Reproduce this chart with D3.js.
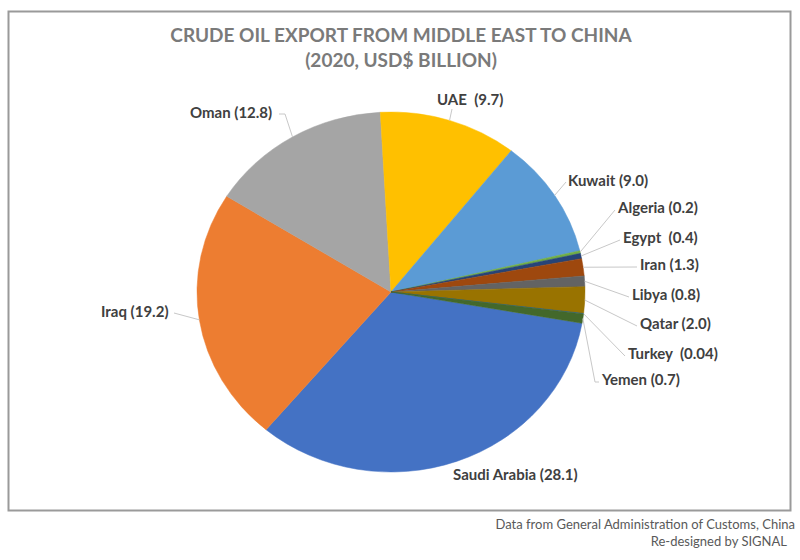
<!DOCTYPE html>
<html>
<head>
<meta charset="utf-8">
<script src="https://cdn.jsdelivr.net/npm/d3@7"></script>
<style>
  html, body { margin: 0; padding: 0; background: #fff; }
  svg { display: block; }
  text { font-family: Lato, "Open Sans", sans-serif; }
</style>
</head>
<body>
<svg id="chart" width="800" height="560"></svg>
<script>
// Crude oil exports to China, 2020, USD$ billion (slice order clockwise from Saudi Arabia)
const countries = ["Saudi Arabia", "Iraq", "Oman", "UAE", "Kuwait", "Algeria",
                   "Egypt", "Iran", "Libya", "Qatar", "Turkey", "Yemen"];
const values    = [28.1, 19.2, 12.8, 9.7, 9.0, 0.2, 0.4, 1.3, 0.8, 2.0, 0.04, 0.7];
const valueText = ["28.1", "19.2", "12.8", "9.7", "9.0", "0.2", "0.4", "1.3", "0.8", "2.0", "0.04", "0.7"];
const labelGap  = [" ", " ", " ", "  ", " ", " ", "  ", " ", " ", " ", "  ", " "];
const colors    = ["#4472C4", "#ED7D31", "#A5A5A5", "#FFC000", "#5B9BD5", "#70AD47",
                   "#264478", "#9E480E", "#636363", "#997300", "#255E91", "#43682B"];

// Label placement: left edge / baseline of the text, and where each leader line ends
const labelLayout = {
  "Saudi Arabia": { x: 453, y: 480, line: null },
  "Iraq":         { x: 101, y: 317, line: [[174, 313]] },
  "Oman":         { x: 190, y: 118, line: [[279, 114], [285, 114]] },
  "UAE":          { x: 437, y: 105, line: [[452, 109]] },
  "Kuwait":       { x: 568, y: 186, line: [[566, 182]] },
  "Algeria":      { x: 618, y: 213, line: [[615, 210]] },
  "Egypt":        { x: 623, y: 243, line: [[620, 240]] },
  "Iran":         { x: 640, y: 270, line: [[637, 267]] },
  "Libya":        { x: 632, y: 300, line: [[629, 297]] },
  "Qatar":        { x: 640, y: 329, line: [[637, 326]] },
  "Turkey":       { x: 628, y: 359, line: [[625, 356]] },
  "Yemen":        { x: 602, y: 385, line: [[599, 382], [595, 382]] }
};

const svg = d3.select("#chart");

// chart frame
svg.append("rect")
  .attr("x", 8.5).attr("y", 11.5).attr("width", 782).attr("height", 499)
  .attr("fill", "#fff").attr("stroke", "#9a9a9a").attr("stroke-width", 2);

// title
const titleLines = ["CRUDE OIL EXPORT FROM MIDDLE EAST TO CHINA", "(2020, USD$ BILLION)"];
svg.append("g").selectAll("text").data(titleLines).join("text")
  .attr("x", 401).attr("y", (d, i) => 42 + i * 25).attr("text-anchor", "middle")
  .attr("font-size", 19).attr("font-weight", 700).attr("fill", "#7a7a7a")
  .text(d => d);

// pie (drawn slightly wider than tall)
const cx = 391, cy = 292, r = 180, sx = 194 / 180;
const firstSliceAngle = 100 * Math.PI / 180;
const data = countries.map((c, i) => ({ name: c, value: values[i], color: colors[i], vt: valueText[i], gap: labelGap[i] }));
const pie = d3.pie().value(d => d.value).sort(null)
  .startAngle(firstSliceAngle).endAngle(firstSliceAngle + 2 * Math.PI);
const arcs = pie(data);
const arc = d3.arc().innerRadius(0).outerRadius(r);
const edge = d3.arc().innerRadius(r).outerRadius(r);

const g = svg.append("g").attr("transform", `translate(${cx},${cy}) scale(${sx},1)`);
g.selectAll("path.slice").data(arcs).join("path")
  .attr("class", "slice")
  .attr("d", arc)
  .attr("fill", d => d.data.color)
  .attr("stroke", d => d.data.color).attr("stroke-width", 0.5)
  .attr("vector-effect", "non-scaling-stroke");

// leader lines
const leaders = svg.append("g").attr("fill", "none").attr("stroke", "#c8c8c8").attr("stroke-width", 1);
arcs.forEach(d => {
  const L = labelLayout[d.data.name];
  if (!L.line) return;
  const p = edge.centroid(d);
  const pts = [[cx + p[0] * sx, cy + p[1]], ...L.line.slice().reverse()];
  leaders.append("path").attr("d", d3.line()(pts));
});

// labels
svg.append("g").selectAll("text").data(arcs).join("text")
  .attr("x", d => labelLayout[d.data.name].x)
  .attr("y", d => labelLayout[d.data.name].y)
  .attr("font-size", 15).attr("font-weight", 700).attr("fill", "#404040")
  .attr("xml:space", "preserve").style("white-space", "pre")
  .text(d => `${d.data.name}${d.data.gap}(${d.data.vt})`);

// source note
const notes = ["Data from General Administration of Customs, China", "Re-designed by SIGNAL"];
svg.append("g").selectAll("text").data(notes).join("text")
  .attr("x", (d, i) => i ? 787 : 795).attr("y", (d, i) => 529 + i * 17)
  .attr("text-anchor", "end")
  .attr("font-size", 13).attr("fill", "#595959")
  .text(d => d);
</script>
</body>
</html>
